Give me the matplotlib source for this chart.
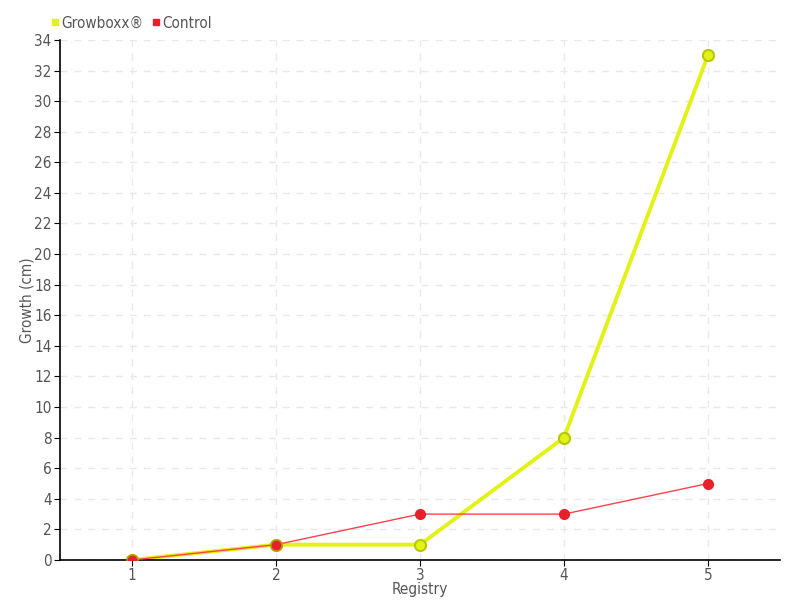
import matplotlib
matplotlib.use("Agg")
from matplotlib import pyplot as plt
from matplotlib.lines import Line2D

plt.rcParams['font.family'] = ['DejaVu Sans']
plt.rcParams['font.stretch'] = 'condensed'

# dados
registros = [1, 2, 3, 4, 5]
growboxx = [0, 1, 1, 8, 33]
controle = [0, 1, 3, 3, 5]
yticks = list(range(0, 35, 2))

cor_g = '#e2f216'
borda_g = '#b8c800'
cor_c = '#e8202a'
texto = '#555555'

fig = plt.figure(figsize=(8, 6), dpi=100)
ax = fig.add_axes([0.075, 0.0667, 0.9, 0.8667])

ax.plot(registros, controle, color='#ff4050', lw=1, zorder=3,
        marker='o', ms=7, mfc=cor_c, mec=cor_c)
ax.plot(registros, growboxx, color=cor_g, lw=2.8, zorder=2,
        marker='o', ms=8, mfc=cor_g, mec=borda_g, mew=1.5)
# ponto do controle por cima no inicio
ax.plot(registros[:2], controle[:2], color=cor_c, lw=0, zorder=4,
        marker='o', ms=8, mfc=cor_c, mec='#b8a000', mew=1)

ax.set_xlim(0.5, 5.5)
ax.set_ylim(0, 34)
ax.set_xticks(registros)
ax.set_yticks(yticks)
ax.grid(True, color='#e8e8e8', ls=(0, (5, 5)), lw=1)
ax.set_axisbelow(True)
for s in ['top', 'right']:
    ax.spines[s].set_visible(False)
ax.spines['left'].set_linewidth(1.2)
ax.spines['bottom'].set_linewidth(1.2)
ax.tick_params(colors='black', labelcolor=texto, labelsize=11, length=4, pad=2)
ax.set_xlabel('Registry', color=texto, fontsize=11, labelpad=-1)
ax.set_ylabel('Growth (cm)', color=texto, fontsize=11, labelpad=0)

handles = [Line2D([], [], ls='', marker='s', ms=5, color=cor_g),
           Line2D([], [], ls='', marker='s', ms=5, color=cor_c)]
fig.legend(handles, ['Growboxx®', 'Control'], loc='upper left',
           bbox_to_anchor=(0.045, 0.997), ncol=2, frameon=False,
           handletextpad=0.05, columnspacing=0.5, fontsize=11,
           labelcolor=texto, handlelength=0.7)

fig.savefig('out.png', dpi=100)
